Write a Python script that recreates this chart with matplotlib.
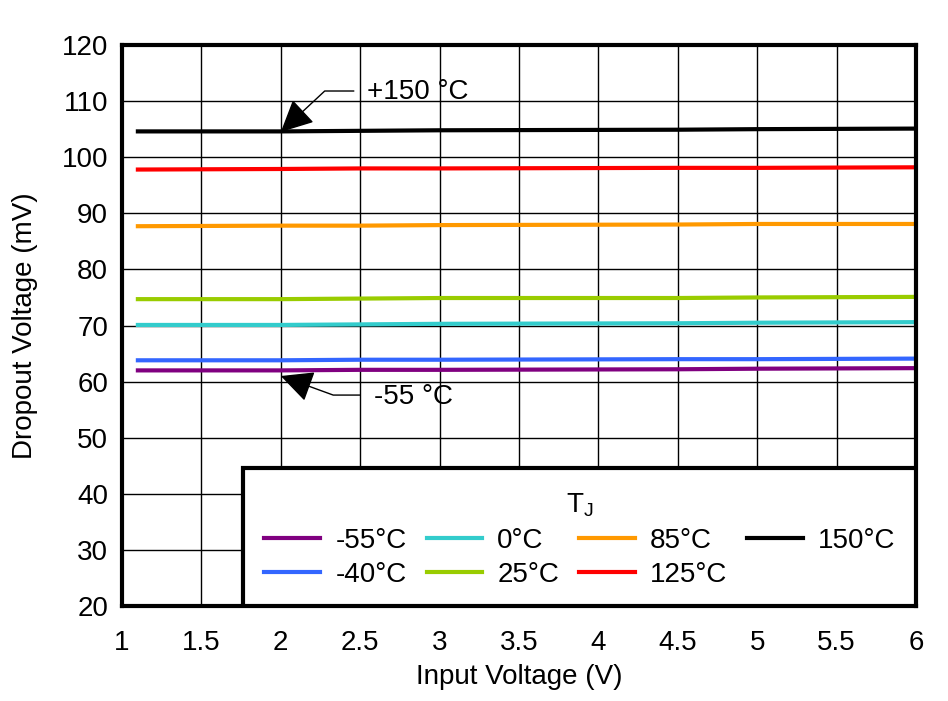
import numpy as np
import matplotlib.pyplot as plt
from matplotlib.patches import Rectangle

plt.rcParams['font.family'] = ['Liberation Sans', 'DejaVu Sans']

# input voltage points (V)
vin = [1.1, 2.0, 2.5, 3.0, 4.5, 5.0, 6.0]

# dropout voltage (mV) per junction temperature
labels = ['-55°C', '-40°C', '0°C', '25°C', '85°C', '125°C', '150°C']
colors = ['#800080', '#3366FF', '#33CCCC', '#99CC00', '#FF9900', '#FF0000', '#000000']
vdo_m55 = [62.0, 62.0, 62.1, 62.1, 62.2, 62.3, 62.4]
vdo_m40 = [63.8, 63.8, 63.9, 63.9, 64.0, 64.0, 64.1]
vdo_0 = [70.1, 70.1, 70.2, 70.3, 70.4, 70.5, 70.6]
vdo_25 = [74.7, 74.7, 74.8, 74.9, 74.9, 75.0, 75.1]
vdo_85 = [87.7, 87.8, 87.8, 87.9, 88.0, 88.1, 88.1]
vdo_125 = [97.8, 97.9, 98.0, 98.0, 98.1, 98.1, 98.2]
vdo_150 = [104.6, 104.6, 104.7, 104.8, 104.9, 105.0, 105.1]
series = [vdo_m55, vdo_m40, vdo_0, vdo_25, vdo_85, vdo_125, vdo_150]

fs = 20

fig = plt.figure(figsize=(9.48, 7.01), dpi=100)
ax = fig.add_axes([0.1287, 0.1355, 0.8375, 0.8003])

for y, c, lab in zip(series, colors, labels):
    ax.plot(vin, y, color=c, lw=3, label=lab)

ax.set_xlim(1, 6)
ax.set_ylim(20, 120)
xt = np.arange(1, 6.01, 0.5)
ax.set_xticks(xt)
ax.set_xticklabels(['%g' % v for v in xt])
ax.set_yticks(np.arange(20, 121, 10))
ax.tick_params(length=0, labelsize=fs)
ax.tick_params(axis='y', pad=10)
ax.tick_params(axis='x', pad=17)
ax.grid(True, color='black', lw=1)
for s in ax.spines.values():
    s.set_linewidth(3)

ax.set_xlabel('Input Voltage (V)', fontsize=fs, labelpad=6)
ax.set_ylabel('Dropout Voltage (mV)', fontsize=fs, labelpad=17)

# callouts
arrow = dict(arrowstyle='-|>,head_length=0.45,head_width=0.22', color='black',
             lw=1, mutation_scale=45, shrinkA=0, shrinkB=0)
ax.text(2.54, 111.6, '+150 °C', fontsize=fs, va='center', ha='left')
ax.annotate('', xy=(2.0, 104.5), xytext=(2.46, 111.8),
            arrowprops=dict(arrow, connectionstyle='angle,angleA=0,angleB=43,rad=0'))
ax.text(2.59, 57.3, '-55 °C', fontsize=fs, va='center', ha='left')
ax.annotate('', xy=(2.0, 61.0), xytext=(2.5, 57.6),
            arrowprops=dict(arrow, connectionstyle='angle,angleA=0,angleB=-20,rad=0'))

# legend box
box = Rectangle((0.152, 0.0), 0.848, 0.246, transform=ax.transAxes,
                facecolor='white', edgecolor='black', lw=3, zorder=4)
ax.add_patch(box)
leg = ax.legend(ncol=4, title='T$_\\mathregular{J}$', fontsize=fs, title_fontsize=fs,
                loc='center', bbox_to_anchor=(0.577, 0.118), frameon=False,
                borderaxespad=0, borderpad=0, handlelength=2.0, columnspacing=0.72,
                handletextpad=0.55, labelspacing=0.3)
leg.set_zorder(5)

fig.savefig('out.png', dpi=100)
